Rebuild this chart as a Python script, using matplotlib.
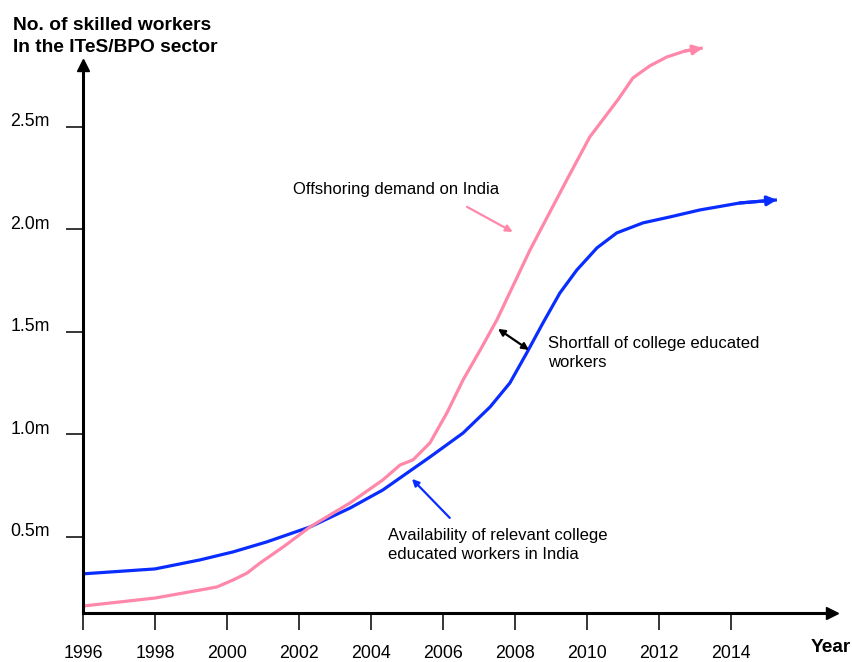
import matplotlib.pyplot as plt
import matplotlib.transforms as mtransforms

plt.rcParams['font.family'] = ['Liberation Sans', 'DejaVu Sans']

# college educated workers available in India (millions)
supply_years = [1996.0, 1998.0, 1999.25, 2000.17, 2001.11, 2002.31, 2003.42, 2004.33,
                2005.64, 2006.56, 2007.31, 2007.86, 2008.33, 2008.78, 2009.25, 2009.72,
                2010.28, 2010.83, 2011.56, 2012.31, 2013.14, 2014.25, 2015.28]
supply = [0.320, 0.344, 0.388, 0.427, 0.476, 0.549, 0.641, 0.729,
          0.890, 1.007, 1.134, 1.251, 1.398, 1.544, 1.690, 1.802,
          1.910, 1.983, 2.032, 2.061, 2.095, 2.129, 2.144]

# offshoring demand on India (millions)
demand_years = [1996.0, 1998.0, 1999.25, 1999.72, 2000.17, 2000.56, 2000.92, 2001.56,
                2002.31, 2003.42, 2004.33, 2004.81, 2005.17, 2005.64, 2006.11, 2006.56,
                2007.03, 2007.5, 2008.42, 2009.44, 2010.08, 2010.86, 2011.28, 2011.75,
                2012.22, 2012.72, 2013.22]
demand = [0.163, 0.202, 0.241, 0.256, 0.290, 0.324, 0.373, 0.451,
          0.549, 0.666, 0.778, 0.851, 0.876, 0.959, 1.105, 1.266,
          1.410, 1.559, 1.900, 2.241, 2.451, 2.632, 2.739, 2.798,
          2.841, 2.870, 2.885]

year_ticks = list(range(1996, 2015, 2))
value_ticks = [0.5, 1.0, 1.5, 2.0, 2.5]
value_labels = ['0.5m', '1.0m', '1.5m', '2.0m', '2.5m']

BLUE = '#0a2dff'
PINK = '#ff88aa'

fig = plt.figure(figsize=(8.53, 6.62), dpi=100)
ax = fig.add_axes([83 / 853, 49 / 662, 749 / 853, 548 / 662])
ax.set_xlim(1996, 2016.81)
ax.set_ylim(0.129, 2.802)

for s in ['top', 'right']:
    ax.spines[s].set_visible(False)
for s in ['left', 'bottom']:
    ax.spines[s].set_linewidth(2.2)
    ax.spines[s].set_color('black')

# arrow heads on the axes
ax.plot([1], [0], marker='>', ms=9, color='black', transform=ax.transAxes, clip_on=False)
ax.plot([0], [1], marker='^', ms=9, color='black', transform=ax.transAxes, clip_on=False)

ax.set_xticks(year_ticks)
ax.set_xticklabels([str(y) for y in year_ticks])
ax.set_yticks(value_ticks)
ax.set_yticklabels(value_labels)
ax.tick_params(axis='x', direction='out', length=12, width=1.1, pad=11, labelsize=12.8)
ax.tick_params(axis='y', direction='out', length=12, width=1.1, pad=12, labelsize=12.8)
up = mtransforms.ScaledTranslation(0, 7 / 100, fig.dpi_scale_trans)
for lab in ax.get_yticklabels():
    lab.set_transform(lab.get_transform() + up)

ax.plot(supply_years, supply, color=BLUE, lw=2.3, clip_on=False,
        solid_capstyle='butt', solid_joinstyle='round')
ax.plot(demand_years, demand, color=PINK, lw=2.3, clip_on=False,
        solid_capstyle='butt', solid_joinstyle='round')
ax.annotate('', xy=(supply_years[-1], supply[-1]), xytext=(supply_years[-2], supply[-2]),
            arrowprops=dict(arrowstyle='-|>', color=BLUE, lw=2.3, mutation_scale=14,
                            shrinkA=0, shrinkB=0), annotation_clip=False)
ax.annotate('', xy=(demand_years[-1], demand[-1]), xytext=(demand_years[-2], demand[-2]),
            arrowprops=dict(arrowstyle='-|>', color=PINK, lw=2.3, mutation_scale=14,
                            shrinkA=0, shrinkB=0), annotation_clip=False)

# callouts
ax.text(2001.83, 2.193, 'Offshoring demand on India', fontsize=12, va='center', ha='left')
ax.annotate('', xy=(2007.94, 1.988), xytext=(2006.67, 2.110),
            arrowprops=dict(arrowstyle='-|>', color=PINK, lw=1.6, mutation_scale=10,
                            shrinkA=0, shrinkB=0))

ax.text(2008.92, 1.398, 'Shortfall of college educated\nworkers', fontsize=12,
        va='center', ha='left', linespacing=1.35)
ax.annotate('', xy=(2008.39, 1.412), xytext=(2007.53, 1.515),
            arrowprops=dict(arrowstyle='<|-|>', color='black', lw=1.6, mutation_scale=10,
                            shrinkA=0, shrinkB=0))

ax.text(2004.47, 0.461, 'Availability of relevant college\neducated workers in India',
        fontsize=12, va='center', ha='left', linespacing=1.35)
ax.annotate('', xy=(2005.14, 0.783), xytext=(2006.19, 0.593),
            arrowprops=dict(arrowstyle='-|>', color=BLUE, lw=1.6, mutation_scale=10,
                            shrinkA=0, shrinkB=0))

fig.text(13 / 853, 1 - 17 / 662, 'No. of skilled workers\nIn the ITeS/BPO sector',
         fontsize=13.8, fontweight='bold', ha='left', va='top', linespacing=1.4)
fig.text(811 / 853, 1 - 648 / 662, 'Year', fontsize=13.8, fontweight='bold',
         ha='left', va='center')

fig.savefig('out.png', dpi=100)
